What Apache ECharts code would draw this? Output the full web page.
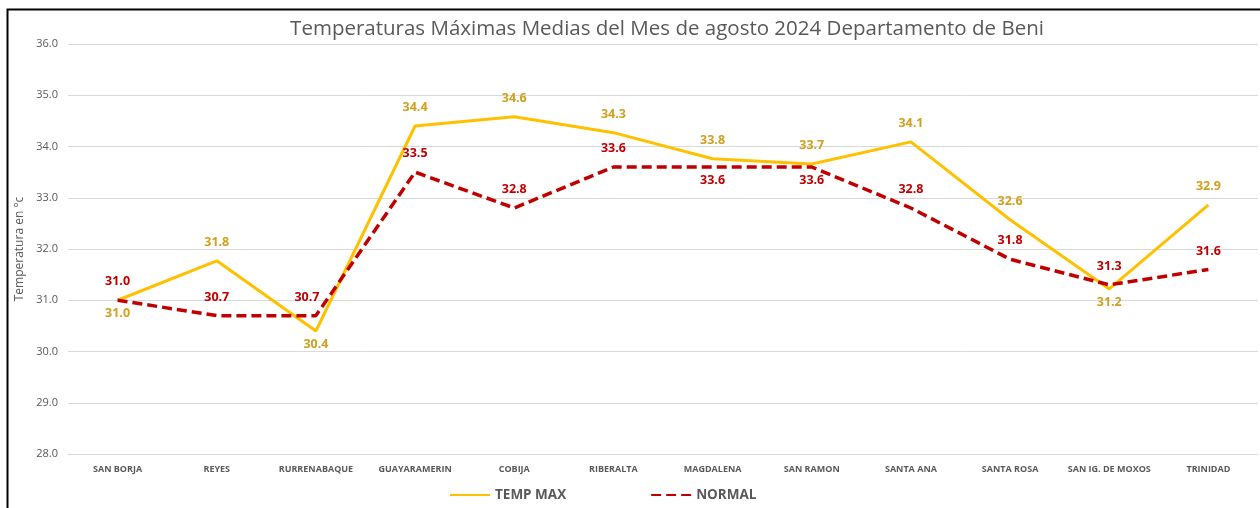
<!DOCTYPE html>
<html>
<head>
<meta charset="utf-8">
<script src="https://cdn.jsdelivr.net/npm/echarts@6/dist/echarts.min.js"></script>
<style>
  html, body { margin: 0; padding: 0; background: #fff; }
  #main { width: 1260px; height: 508px; }
</style>
</head>
<body>
<div id="main"></div>
<script>
// datos
var estaciones = ['SAN BORJA', 'REYES', 'RURRENABAQUE', 'GUAYARAMERIN', 'COBIJA', 'RIBERALTA',
  'MAGDALENA', 'SAN RAMON', 'SANTA ANA', 'SANTA ROSA', 'SAN IG. DE MOXOS', 'TRINIDAD'];
var tempMax = [31.0, 31.77, 30.4, 34.4, 34.58, 34.27, 33.76, 33.66, 34.09, 32.57, 31.22, 32.86];
var normal = [31.0, 30.7, 30.7, 33.5, 32.8, 33.6, 33.6, 33.6, 32.8, 31.8, 31.3, 31.6];

// donde va cada etiqueta (arriba / abajo) y desplazamiento horizontal
var posMax = ['bottom', 'top', 'bottom', 'top', 'top', 'top', 'top', 'top', 'top', 'top', 'bottom', 'top'];
var posNormal = ['top', 'top', 'top', 'top', 'top', 'top', 'bottom', 'bottom', 'top', 'top', 'top', 'top'];
var dxNormal = [0, 0, -9, 0, 0, 0, 0, 0, 0, 0, 0, 0];

function conEtiquetas(valores, pos, dx) {
  return valores.map(function (v, i) {
    var abajo = pos[i] === 'bottom';
    return {
      value: v,
      label: {
        position: pos[i],
        distance: abajo ? 6 : 11,
        offset: [dx ? dx[i] : 0, 0]
      }
    };
  });
}

var myChart = echarts.init(document.getElementById('main'));

var option = {
  backgroundColor: '#fff',
  textStyle: { fontFamily: 'Open Sans' },
  title: {
    text: 'Temperaturas Máximas Medias del Mes de agosto 2024 Departamento de Beni',
    left: 662,
    textAlign: 'center',
    top: 14,
    textStyle: { fontFamily: 'Open Sans', fontSize: 20.5, fontWeight: 'normal', color: '#595959' }
  },
  graphic: [{
    type: 'polyline',
    shape: { points: [[7.5, 520], [7.5, 9.5], [1270, 9.5]] },
    style: { stroke: '#000', lineWidth: 2, fill: null }
  }],
  legend: {
    bottom: 1,
    left: 444,
    itemGap: 84,
    itemWidth: 40,
    itemHeight: 12,
    textStyle: { fontSize: 13.5, fontWeight: 'bold', color: '#595959' },
    data: ['TEMP MAX', 'NORMAL']
  },
  grid: { left: 68, right: 2, top: 44, bottom: 54, containLabel: false },
  xAxis: {
    type: 'category',
    data: estaciones,
    axisLine: { show: true, lineStyle: { color: '#d9d9d9' } },
    axisTick: { show: false },
    axisLabel: { fontSize: 9, fontWeight: 'bold', color: '#595959', margin: 11, interval: 0 }
  },
  yAxis: {
    type: 'value',
    min: 28,
    max: 36,
    interval: 1,
    name: 'Temperatura en °c',
    nameLocation: 'middle',
    nameGap: 41,
    nameTextStyle: { fontSize: 12, color: '#595959' },
    axisLabel: {
      fontSize: 11, color: '#595959', margin: 10,
      formatter: function (v) { return v.toFixed(1); }
    },
    splitLine: { lineStyle: { color: '#d9d9d9', width: 1 } }
  },
  series: [{
    name: 'TEMP MAX',
    type: 'line',
    data: conEtiquetas(tempMax, posMax),
    showSymbol: true,
    symbol: 'circle',
    symbolSize: 2,
    itemStyle: { color: 'rgba(0,0,0,0)' },
    lineStyle: { width: 3, color: '#FFC000' },
    label: {
      show: true,
      fontSize: 12.5,
      fontWeight: 'bold',
      color: '#D0A020',
      formatter: function (p) { return p.value.toFixed(1); }
    },
    z: 2
  }, {
    name: 'NORMAL',
    type: 'line',
    data: conEtiquetas(normal, posNormal, dxNormal),
    showSymbol: true,
    symbol: 'circle',
    symbolSize: 2,
    itemStyle: { color: 'rgba(0,0,0,0)' },
    lineStyle: { width: 3.5, color: '#C00000', type: [10, 5] },
    label: {
      show: true,
      fontSize: 12.5,
      fontWeight: 'bold',
      color: '#C00000',
      formatter: function (p) { return p.value.toFixed(1); }
    },
    z: 3
  }]
};

myChart.setOption(option);
</script>
</body>
</html>
